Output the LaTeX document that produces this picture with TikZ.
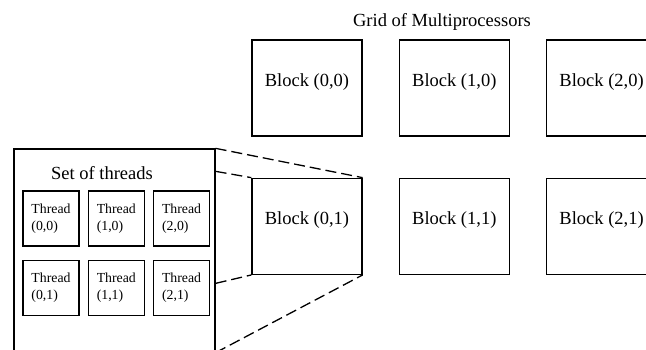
\documentclass[tikz,border=0pt]{standalone}
\usepackage{fontspec}
\setmainfont{Liberation Serif}
\usetikzlibrary{positioning}

\begin{document}
\begin{tikzpicture}[
	x=1pt, y=-1pt,
	block/.style = {
		draw, line width=1.3pt,
		inner sep=0pt,
		minimum width=110pt,
		minimum height=96pt,
		text depth=16pt,
		font=\fontsize{18.5}{22}\selectfont,
	},
	thread/.style = {
		draw, line width=1.3pt,
		inner sep=0pt,
		align=left,
		minimum width=56pt,
		minimum height=55pt,
		font=\fontsize{13.8}{17}\selectfont,
	},
	zoomline/.style = {line width=1.3pt, dash pattern=on 11pt off 5pt},
	node distance=41pt and 36pt
]
\useasboundingbox (0,0) rectangle (646,350);
\clip (0,0) rectangle (646,350);

% Grid of blocks
\node [font=\fontsize{18.5}{22}\selectfont] (gridtitle) at (442,22) {Grid of Multiprocessors};
\node [block] (b00) at (307,88) {Block (0,0)};
\node [block, right=of b00] (b10) {Block (1,0)};
\node [block, right=of b10] (b20) {Block (2,0)};
\node [block, below=of b00] (b01) {Block (0,1)};
\node [block, right=of b01] (b11) {Block (1,1)};
\node [block, right=of b11] (b21) {Block (2,1)};

% Set of threads box
\node [draw, line width=1.3pt, inner sep=0pt,
	minimum width=201pt,
	minimum height=203pt,
] (tset) at (114.5,250.5) {};
\node [font=\fontsize{18.5}{22}\selectfont] (settitle) at (102,173) {Set of threads};

\node [thread] (t00) at (51,218.5) {Thread\\(0,0)};
\node [thread, right=8pt of t00] (t10) {Thread\\(1,0)};
\node [thread, right=8pt of t10] (t20) {Thread\\(2,0)};
\node [thread, below=13pt of t00] (t01) {Thread\\(0,1)};
\node [thread, right=8pt of t01] (t11) {Thread\\(1,1)};
\node [thread, right=8pt of t11] (t21) {Thread\\(2,1)};

% Zoom lines from block (0,1)
\coordinate (tsetA) at ([yshift=-23pt]tset.north east);
\coordinate (tsetB) at ([yshift=-135pt]tset.north east);
\draw[zoomline] (tset.north east) -- (b01.north east);
\draw[zoomline] (tsetA) -- (b01.north west);
\draw[zoomline] (tsetB) -- (b01.south west);
\draw[zoomline] (tset.south east) -- (b01.south east);

\end{tikzpicture}
\end{document}
